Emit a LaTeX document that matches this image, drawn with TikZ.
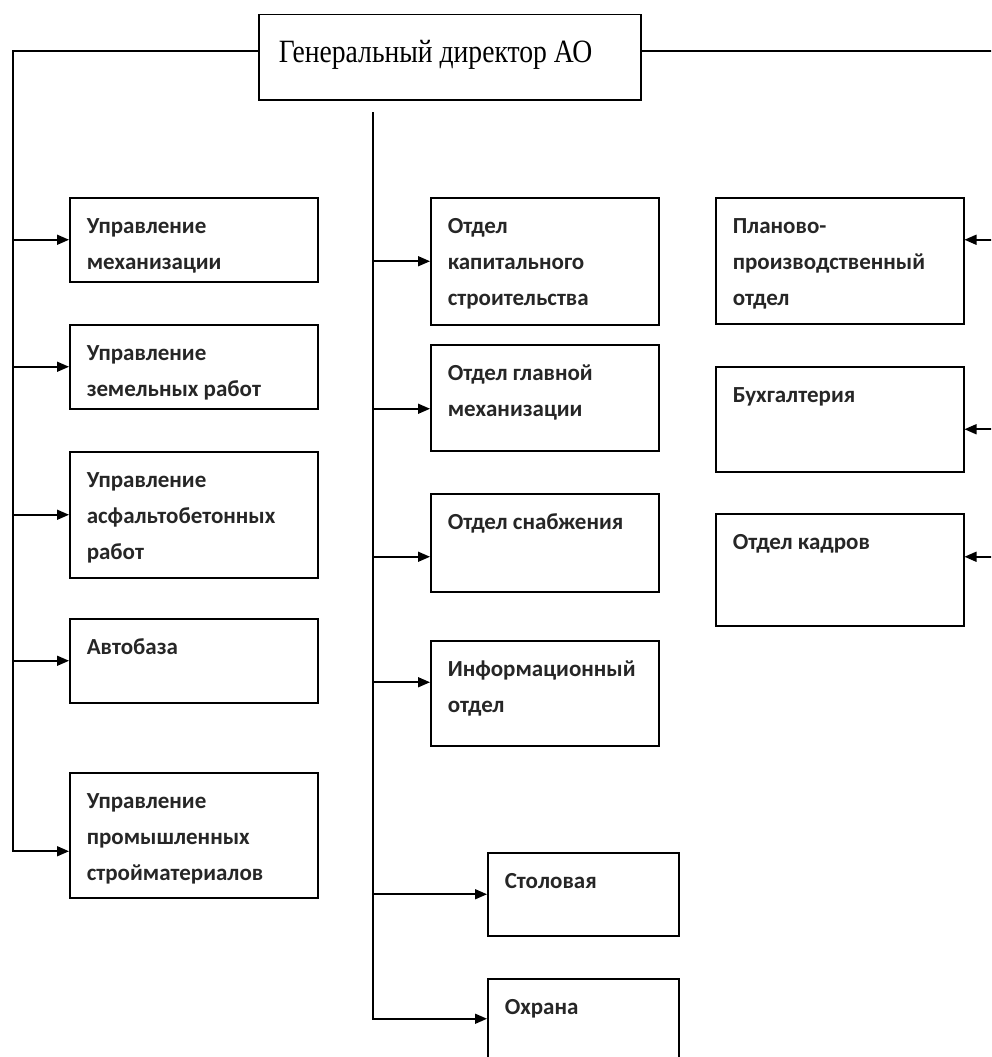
\documentclass[tikz,border=0pt]{standalone}
\usepackage{fontspec}
\setmainfont{Carlito}
\newfontfamily\topfont[FakeStretch=0.85]{Liberation Serif}
\usetikzlibrary{arrows.meta,calc}
\tikzset{
  box/.style={draw, line width=1.5pt, inner sep=0pt, anchor=north west,
    font=\bfseries\fontsize{23}{36}\selectfont, text=black!85},
  ln/.style={line width=1.6pt},
  arr/.style={ln, -{Triangle[length=12pt,width=10pt]}},
}
\newcommand{\bx}[6]{%
  \node[box] (#1) at (#2,#3) {\parbox[t][#5pt][t]{#4pt}{\raggedright\leftskip=17pt\rule{0pt}{36pt}#6}};}
\begin{document}
\begin{tikzpicture}[x=1pt,y=-1pt]
\useasboundingbox (0,0) rectangle (991,1057);
\clip (0,0) rectangle (991,1057);
% top box
\node[draw, line width=1.5pt, inner sep=0pt, anchor=north west] (top) at (258,14)
  {\parbox[t][85pt][t]{382pt}{\topfont\fontsize{32.5}{32}\selectfont\leftskip=20pt\rule{0pt}{48pt}Генеральный директор АО}};
% left column
\bx{L1}{69}{197}{248}{84}{Управление\\механизации}
\bx{L2}{69}{324}{248}{84}{Управление\\земельных работ}
\bx{L3}{69}{451}{248}{126}{Управление\\асфальтобетонных\\работ}
\bx{L4}{69}{618}{248}{84}{Автобаза}
\bx{L5}{69}{772}{248}{125}{Управление\\промышленных\\стройматериалов}
% middle column
\bx{M1}{430}{197}{228}{127}{Отдел\\капитального\\строительства}
\bx{M2}{430}{344}{228}{106}{Отдел главной\\механизации}
\bx{M3}{430}{493}{228}{98}{Отдел снабжения}
\bx{M4}{430}{640}{228}{105}{Информационный\\отдел}
\bx{M5}{487}{852}{191}{83}{Столовая}
\bx{M6}{487}{978}{191}{84}{Охрана}
% right column
\bx{R1}{715}{197}{248}{126}{Планово-\\производственный\\отдел}
\bx{R2}{715}{366}{248}{105}{Бухгалтерия}
\bx{R3}{715}{513}{248}{112}{Отдел кадров}
% trunk coordinates
\coordinate (lx) at (13,0);
\coordinate (mtop) at (373,112);
\coordinate (rx) at (1000,0);
\coordinate (L5in) at ([yshift=-16pt]L5.west);
\coordinate (M2in) at ([yshift=-11pt]M2.west);
\coordinate (M3in) at ([yshift=-14pt]M3.west);
\coordinate (M4in) at ([yshift=11pt]M4.west);
\coordinate (M6in) at ([yshift=2pt]M6.west);
\coordinate (R1in) at ([yshift=21pt]R1.east);
\coordinate (R2in) at ([yshift=-10pt]R2.east);
\coordinate (R3in) at ([yshift=13pt]R3.east);
% left trunk
\draw[arr] ([yshift=6pt]top.west) -| (lx |- L5in) -- (L5in);
\draw[arr] (lx |- L1.west) -- (L1.west);
\draw[arr] (lx |- L2.west) -- (L2.west);
\draw[arr] (lx |- L3.west) -- (L3.west);
\draw[arr] (lx |- L4.west) -- (L4.west);
% middle trunk
\draw[arr] (mtop) |- (M6in);
\draw[arr] (mtop |- M1.west) -- (M1.west);
\draw[arr] (mtop |- M2in) -- (M2in);
\draw[arr] (mtop |- M3in) -- (M3in);
\draw[arr] (mtop |- M4in) -- (M4in);
\draw[arr] (mtop |- M5.west) -- (M5.west);
% right trunk
\draw[ln] ([yshift=6pt]top.east) -| (rx |- R3in);
\draw[arr] (rx |- R1in) -- (R1in);
\draw[arr] (rx |- R2in) -- (R2in);
\draw[arr] (rx |- R3in) -- (R3in);
\end{tikzpicture}
\end{document}
